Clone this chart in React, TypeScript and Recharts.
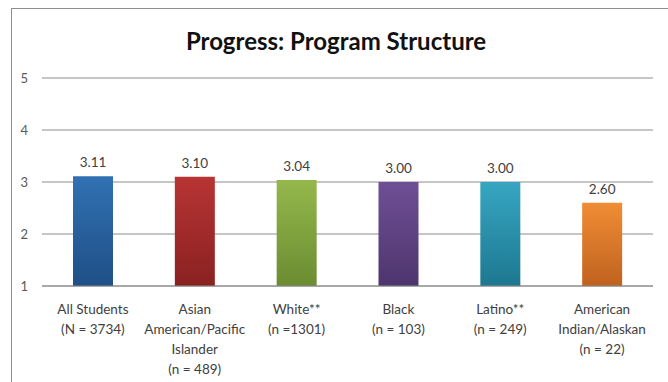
import React from "react";
import {
  BarChart,
  Bar,
  Cell,
  XAxis,
  YAxis,
  CartesianGrid,
  LabelList,
} from "recharts";

// group names, split into the lines shown under each bar
const groupLines: string[][] = [
  ["All Students", "(N = 3734)"],
  ["Asian", "American/Pacific", "Islander", "(n = 489)"],
  ["White**", "(n =1301)"],
  ["Black", "(n = 103)"],
  ["Latino**", "(n = 249)"],
  ["American", "Indian/Alaskan", "(n = 22)"],
];

const scores = [3.11, 3.1, 3.04, 3.0, 3.0, 2.6];

const scoreTicks = [1, 2, 3, 4, 5];

// top / bottom colours of each bar's gradient
const barColors: [string, string][] = [
  ["#3171b3", "#1f4f86"],
  ["#b83434", "#8a2121"],
  ["#95b84c", "#6b8c31"],
  ["#6e4f95", "#4e356e"],
  ["#37a6c2", "#1d7890"],
  ["#f08d35", "#c0621f"],
];

const chartData = groupLines.map((lines, i) => ({
  group: lines.join(" "),
  score: scores[i],
}));

const font = "Lato, 'Open Sans', sans-serif";

function GroupTick(props: any) {
  const { x, y, payload } = props;
  const lines = groupLines[payload.index] ?? [payload.value];
  return (
    <text
      x={x}
      y={y}
      textAnchor="middle"
      fill="#404040"
      fontSize={13.5}
      fontFamily={font}
    >
      {lines.map((line, i) => (
        <tspan key={i} x={x} dy={i === 0 ? 20 : 20}>
          {line}
        </tspan>
      ))}
    </text>
  );
}

export default function App() {
  return (
    <div
      style={{
        position: "fixed",
        left: 0,
        top: 0,
        width: 668,
        height: 382,
        background: "#fff",
        overflow: "hidden",
      }}
    >
      <div
        style={{
          position: "absolute",
          left: 11,
          top: 8,
          right: -2,
          bottom: -2,
          borderLeft: "1px solid #8f8f8f",
          borderTop: "1px solid #8f8f8f",
        }}
      />
      <div
        style={{
          position: "absolute",
          left: 0,
          width: 672,
          top: 26,
          textAlign: "center",
          fontFamily: font,
          fontWeight: 700,
          fontSize: 24,
          color: "#111",
        }}
      >
        Progress: Program Structure
      </div>
      <BarChart
        width={668}
        height={382}
        data={chartData}
        margin={{ top: 78, right: 15, bottom: 16, left: 12 }}
        style={{ position: "absolute", left: 0, top: 0 }}
      >
        <defs>
          {barColors.map(([top, bottom], i) => (
            <linearGradient key={i} id={`barFill${i}`} x1="0" y1="0" x2="0" y2="1">
              <stop offset="0%" stopColor={top} />
              <stop offset="100%" stopColor={bottom} />
            </linearGradient>
          ))}
        </defs>
        <CartesianGrid vertical={false} stroke="#8c8c8c" />
        <XAxis
          dataKey="group"
          interval={0}
          height={80}
          tickLine={false}
          axisLine={{ stroke: "#8c8c8c" }}
          tick={<GroupTick />}
        />
        <YAxis
          domain={[1, 5]}
          ticks={scoreTicks}
          width={30}
          axisLine={false}
          tickLine={false}
          tickMargin={8}
          tick={{ fill: "#595959", fontSize: 13, fontFamily: font }}
        />
        <Bar dataKey="score" barSize={40} isAnimationActive={false}>
          {chartData.map((_, i) => (
            <Cell key={i} fill={`url(#barFill${i})`} />
          ))}
          <LabelList
            dataKey="score"
            position="top"
            offset={9}
            fill="#404040"
            fontSize={13.5}
            fontFamily={font}
            formatter={(v: any) => Number(v).toFixed(2)}
          />
        </Bar>
      </BarChart>
    </div>
  );
}
